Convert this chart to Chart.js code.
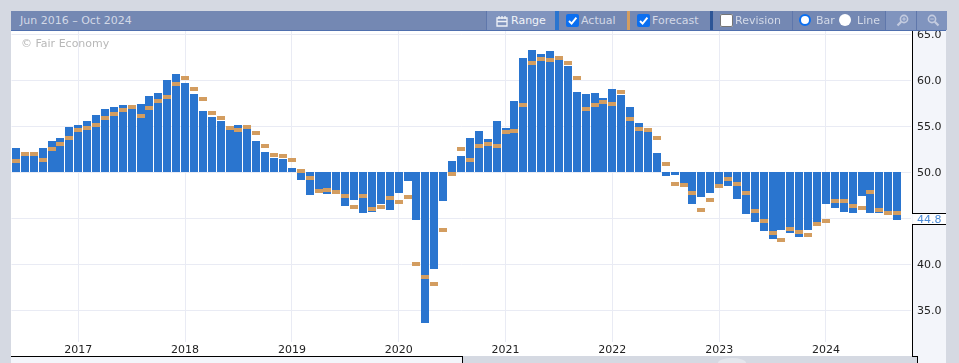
<!DOCTYPE html>
<html><head><meta charset="utf-8">
<style>
html,body{margin:0;padding:0;width:959px;height:363px;overflow:hidden;background:#d5d9e2;font-family:"DejaVu Sans",sans-serif}
.abs{position:absolute}
svg{display:block}
#plot{left:11px;top:31px;width:901px;height:325px;background:#fff}
#axis{left:912px;top:31px;width:34px;height:332px;background:#f3f5fa}
#under{left:11px;top:356px;width:451px;height:7px;background:#f3f5fa}
#gap{left:462px;top:357px;width:455px;height:6px;background:#d5d9e2}
#c{left:0;top:0;z-index:2}
.ln{background:#000;z-index:3}
#hdr{left:11px;top:11px;width:935px;height:19px;background:#7488b3;border-bottom:1px solid #4f6fae;z-index:4}
.cell{position:absolute;top:0;height:19px}
.t{position:absolute;top:0;line-height:20px;font-size:11px;color:#d3d9e7;white-space:nowrap}
.chk{position:absolute;top:3px;width:13px;height:13px;border-radius:2px;background:#0b6ff0}
.chk.off{background:#fff;box-shadow:inset 0 0 0 1px #767676}
.rad{position:absolute;top:3px;width:12px;height:12px;border-radius:50%;background:#fff;box-sizing:border-box}
.rad.on{border:2.5px solid #0b6ff0}
#wm{left:21px;top:37px;font-size:11px;color:#b8b8b8;z-index:3;white-space:nowrap}
#last{left:913px;top:214px;width:33px;height:10px;background:#fff;z-index:3;font-size:11px;line-height:11px;color:#4a8bd8;padding-left:4px;box-sizing:border-box}
#blob{left:718px;top:358px;width:28px;height:10px;border-radius:50%;background:#e4e7ed}
</style></head><body>
<div class="abs" id="plot"></div>
<div class="abs" id="axis"></div>
<div class="abs" id="under"></div>
<div class="abs" id="gap"></div>
<div class="abs" id="blob"></div>
<canvas class="abs" id="c" width="959" height="363" style="width:959px;height:363px"></canvas>
<div class="abs ln" style="left:11px;top:356px;width:452px;height:1px"></div>
<div class="abs ln" style="left:462px;top:356px;width:1px;height:7px"></div>
<div class="abs ln" style="left:912px;top:31px;width:1px;height:183px"></div>
<div class="abs ln" style="left:912px;top:224px;width:1px;height:133px"></div>
<div class="abs ln" style="left:912px;top:213px;width:34px;height:1px"></div>
<div class="abs ln" style="left:912px;top:224px;width:34px;height:1px"></div>
<div class="abs ln" style="left:912px;top:356px;width:5px;height:1px"></div>
<div class="abs ln" style="left:917px;top:356px;width:1px;height:7px"></div>
<div class="abs" id="last">44.8</div>
<div class="abs" id="wm">© Fair Economy</div>
<div class="abs" id="hdr">
  <span class="t" style="left:9px">Jun 2016 – Oct 2024</span>
  <div class="cell" style="left:475px;width:69px;background:#8094be;border-left:1px solid #5f77ab"></div>
  <svg class="abs" style="left:485px;top:4px" width="12" height="12" viewBox="0 0 12 12"><path d="M1 3h10v8H1zM1 6.5h10M3 1v3M9 1v3M6 1v3" fill="none" stroke="#eef1f7" stroke-width="1.3"/></svg>
  <span class="t" style="left:500px;color:#f0f3f8">Range</span>
  <div class="cell" style="left:544px;width:4px;background:#2a75cf"></div>
  <div class="chk" style="left:555px"><svg width="13" height="13" viewBox="0 0 13 13"><path d="M3 7l2.6 2.6L10.4 3.6" fill="none" stroke="#fff" stroke-width="2"/></svg></div>
  <span class="t" style="left:570px">Actual</span>
  <div class="cell" style="left:616px;width:3px;background:#d39d60"></div>
  <div class="chk" style="left:626px"><svg width="13" height="13" viewBox="0 0 13 13"><path d="M3 7l2.6 2.6L10.4 3.6" fill="none" stroke="#fff" stroke-width="2"/></svg></div>
  <span class="t" style="left:641px">Forecast</span>
  <div class="cell" style="left:699px;width:3px;background:#2d5596"></div>
  <div class="chk off" style="left:709px"></div>
  <span class="t" style="left:724px">Revision</span>
  <div class="cell" style="left:781px;width:1px;background:#5f77ab"></div>
  <div class="rad on" style="left:788px"></div>
  <span class="t" style="left:805px">Bar</span>
  <div class="rad" style="left:828px"></div>
  <span class="t" style="left:846px">Line</span>
  <div class="cell" style="left:874px;width:61px;background:#8094be;border-left:1px solid #5f77ab"></div>
  <div class="cell" style="left:905px;width:1px;background:#5f77ab"></div>
  <svg class="abs" style="left:885px;top:3px" width="13" height="13" viewBox="0 0 13 13"><circle cx="8" cy="5" r="3.6" fill="none" stroke="#c3cbdf" stroke-width="1.6"/><path d="M5.2 7.8L1.5 11.5" stroke="#c3cbdf" stroke-width="2.2"/><path d="M6.2 5h3.6M8 3.2v3.6" stroke="#c3cbdf"/></svg>
  <svg class="abs" style="left:916px;top:3px" width="13" height="13" viewBox="0 0 13 13"><circle cx="5" cy="5" r="3.6" fill="none" stroke="#c3cbdf" stroke-width="1.6"/><path d="M7.8 7.8L11.5 11.5" stroke="#c3cbdf" stroke-width="2.2"/><path d="M3.2 5h3.6" stroke="#c3cbdf"/></svg>
</div>
<script src="https://cdn.jsdelivr.net/npm/chart.js@4"></script>
<script>
const categories = [
  '2016-06','2016-07','2016-08','2016-09','2016-10','2016-11','2016-12',
  '2017-01','2017-02','2017-03','2017-04','2017-05','2017-06','2017-07','2017-08','2017-09','2017-10','2017-11','2017-12',
  '2018-01','2018-02','2018-03','2018-04','2018-05','2018-06','2018-07','2018-08','2018-09','2018-10','2018-11','2018-12',
  '2019-01','2019-02','2019-03','2019-04','2019-05','2019-06','2019-07','2019-08','2019-09','2019-10','2019-11','2019-12',
  '2020-01','2020-02','2020-03','2020-04','2020-05','2020-06','2020-07','2020-08','2020-09','2020-10','2020-11','2020-12',
  '2021-01','2021-02','2021-03','2021-04','2021-05','2021-06','2021-07','2021-08','2021-09','2021-10','2021-11','2021-12',
  '2022-01','2022-02','2022-03','2022-04','2022-05','2022-06','2022-07','2022-08','2022-09','2022-10','2022-11','2022-12',
  '2023-01','2023-02','2023-03','2023-04','2023-05','2023-06','2023-07','2023-08','2023-09','2023-10','2023-11','2023-12',
  '2024-01','2024-02','2024-03','2024-04','2024-05','2024-06','2024-07','2024-08','2024-09','2024-10'
];
const actual = [
  52.6,51.8,51.8,52.6,53.4,53.7,54.9,
  55.1,55.6,56.2,56.9,57.1,57.3,56.9,57.4,58.3,58.6,60.0,60.7,
  59.7,58.5,56.7,56.0,55.6,54.6,55.1,54.7,53.4,52.2,51.6,51.4,
  50.5,49.2,47.5,48.2,47.65,48.1,46.3,47.0,45.6,45.7,46.6,45.9,
  47.75,49.1,44.8,33.6,39.5,46.9,51.2,51.8,53.7,54.5,53.6,55.6,
  54.8,57.75,62.4,63.3,62.9,63.2,62.2,61.6,58.7,58.5,58.6,58.1,
  59.05,58.4,57.1,55.4,54.4,52.1,49.6,49.7,48.8,46.6,47.3,47.75,
  48.7,48.5,47.1,45.5,44.6,43.6,42.75,43.7,43.4,43.0,43.7,44.2,
  46.6,46.1,45.7,45.6,47.4,45.6,45.6,45.8,44.8,null
];
const forecast = [
  51.2,52.0,52.0,51.3,52.5,53.1,53.7,
  54.6,54.8,55.1,55.9,56.3,56.8,57.1,56.1,57.0,57.8,58.2,59.6,
  60.3,59.1,58.0,56.4,55.9,54.8,54.6,54.9,54.3,52.9,51.9,51.8,
  51.3,50.1,49.4,47.95,48.1,47.9,47.4,46.2,47.4,46.0,46.2,47.2,
  46.8,47.3,40.0,38.6,37.9,43.7,49.8,52.5,51.3,52.9,53.1,52.9,
  54.4,54.5,57.3,61.9,62.3,62.2,62.4,61.9,60.25,56.9,57.3,57.6,
  57.4,58.7,55.8,54.7,54.6,53.7,50.9,48.7,48.6,47.75,45.9,47.0,
  48.5,49.3,48.7,47.75,45.8,44.7,43.4,42.65,43.8,43.5,43.2,44.4,
  44.7,46.9,46.9,46.3,46.1,47.9,45.9,45.6,45.6,null
];
const yTicks = [35,40,45,50,55,60,65];
const markerHalf = 0.22;
const gridColor = '#e9ebf4';

// Snap the library-computed bars to whole pixels so their edges stay crisp.
const crispBars = {
  id:'crispBars',
  beforeDatasetsDraw(chart){
    chart.getSortedVisibleDatasetMetas().forEach(meta => {
      const isForecast = meta.label === 'Forecast';
      meta.data.forEach(el => {
        if (el.skip || !Number.isFinite(el.y)) return;
        el.x = Math.round(el.x);
        if (isForecast) {
          const h = Math.round(Math.abs(el.base - el.y));
          el.y = Math.round(el.y);
          el.base = el.y + h;
        } else {
          el.base = el.y < el.base ? Math.ceil(el.base) : Math.floor(el.base);
          el.y = Math.round(el.y);
        }
      });
    });
  }
};

new Chart(document.getElementById('c'), {
  type: 'bar',
  plugins:[crispBars],
  data: {
    labels: categories,
    datasets: [
      {label:'Forecast', data: forecast.map(v => v === null ? null : [v - markerHalf, v + markerHalf]),
       backgroundColor:'#d39d60', grouped:false, barThickness:8, inflateAmount:0, order:1},
      {label:'Actual', data: actual, base:50,
       backgroundColor:'#2a75cf', grouped:false, barThickness:8, inflateAmount:0, order:2}
    ]
  },
  options: {
    responsive:false, animation:false,
    layout:{padding:{left:11.5,top:31,right:13,bottom:7}},
    plugins:{legend:{display:false},title:{display:false},tooltip:{enabled:false}},
    scales:{
      x:{
        offset:true,
        grid:{offset:false,color:gridColor,lineWidth:1,drawTicks:false},
        border:{display:false},
        afterBuildTicks(s){ s.ticks = s.ticks.filter(t => categories[t.value].endsWith('-01')); },
        afterFit(s){ s.height = 14; },
        ticks:{autoSkip:false,maxRotation:0,padding:2,color:'#222',font:{family:'DejaVu Sans',size:11},
          callback(v){ return categories[v].slice(0,4); }}
      },
      y:{
        position:'right',min:31.55,max:65.36,
        grid:{color:gridColor,lineWidth:1,drawTicks:false},
        border:{display:false},
        afterBuildTicks(s){ s.ticks = yTicks.map(v => ({value:v})); },
        afterFit(s){ s.width = 35.5; },
        ticks:{padding:6.5,labelOffset:1,color:'#222',font:{family:'DejaVu Sans',size:11},
          callback(v){ return v.toFixed(1); }}
      }
    }
  }
});
</script>
</body></html>
